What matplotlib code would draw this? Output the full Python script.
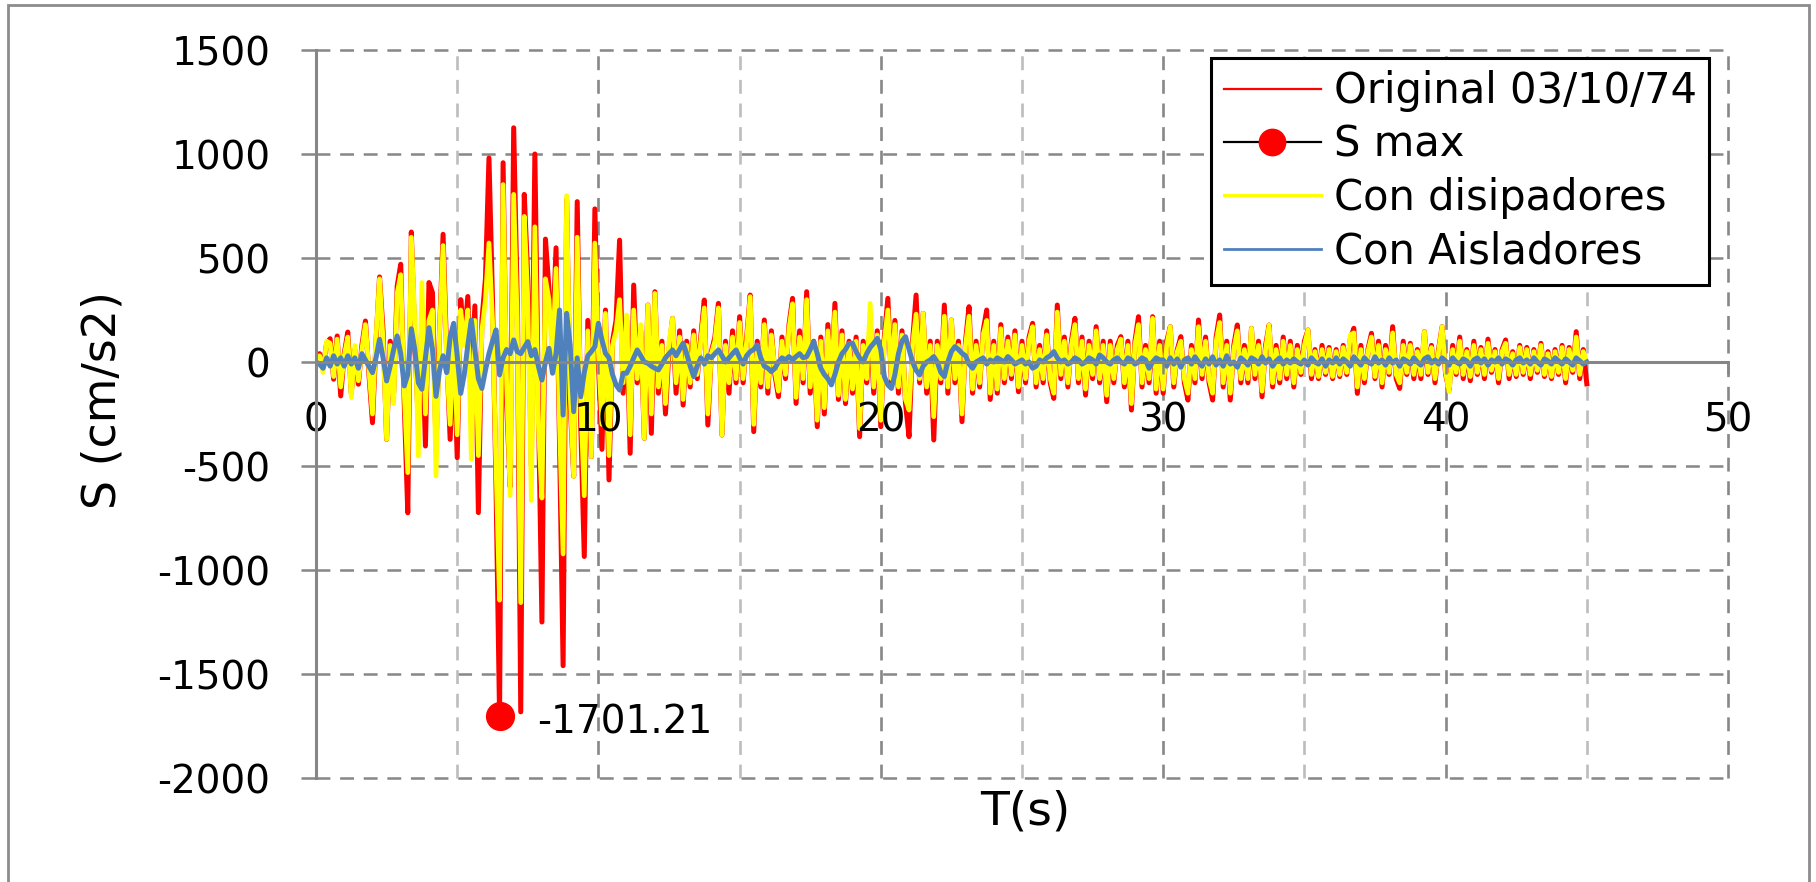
import numpy as np
import matplotlib
matplotlib.use("Agg")
import matplotlib.pyplot as plt
from matplotlib.lines import Line2D
from matplotlib.patches import Rectangle

plt.rcParams['font.family'] = ['DejaVu Sans']
plt.rcParams['axes.unicode_minus'] = False
plt.rcParams['lines.scale_dashes'] = False

# ---------------- data (sampling step 0.125 s, one row = 1 s) ----------------
DT = 0.125

ORIGINAL = [
    0, 40, -30, 90, 112, -83, 125, -163,
    40, 144, -150, 60, -107, 80, 197, -60,
    -292, 100, 409, 150, -372, 100, -150, 365,
    470, -200, -725, 625, 100, -300, 200, -404,
    382, 333, -420, 150, 614, 50, -372, 100,
    -460, 300, 100, 315, -150, 270, -724, 200,
    400, 981, 300, -600, -1701.21, 958, -200, -600,
    1126, 300, -1682, 806, 400, -500, 1000, -200,
    -1250, 591, 350, 100, 549, -400, -1460, 780,
    -200, -549, 771, -300, -935, 200, -455, 736,
    0, -420, 250, -567, 100, 200, 586, -150,
    200, -439, 370, -100, 150, -367, 274, -343,
    338, -150, 100, -250, 60, 210, -150, 150,
    -207, 100, -120, 150, -80, 120, 298, -303,
    50, 120, 282, -351, 100, -150, 150, -100,
    218, -100, 120, 322, -335, 100, -120, 202,
    -150, 150, -60, -167, 120, -80, 180, 306,
    -199, 150, -100, 338, -150, 100, -311, 120,
    -250, 180, -100, 282, -180, 150, -200, 100,
    -150, 120, -359, 100, -100, 194, -150, 150,
    -311, 120, 306, -100, 200, -150, 150, -200,
    -359, 100, 322, -100, 234, -150, 100, -375,
    100, -100, 274, -150, 202, -100, 100, -287,
    100, 266, -150, 100, -120, 150, 250, -180,
    100, -150, 180, -100, 120, -80, 150, -143,
    100, -100, 120, 186, -120, 80, -100, 150,
    -100, -175, 274, -80, 120, -120, 100, 210,
    -100, 120, -159, 100, -80, 170, -100, 100,
    -191, 100, -100, 80, 122, -120, 100, -231,
    100, 218, -120, 80, -100, 218, -150, 100,
    -150, 100, 170, -120, 60, 122, -100, -183,
    80, -100, 202, -80, 120, -100, -183, 120,
    226, -120, 100, -183, 80, 178, -100, 80,
    -100, 162, -80, 100, -167, 80, 178, -120,
    80, -100, 120, -80, 100, -120, 80, -60,
    100, 154, -80, 60, -80, 80, -60, 70,
    -80, 60, -70, 80, -60, 110, 162, -151,
    80, -100, 60, 138, -80, 100, -120, 80,
    -60, 170, -80, -127, 100, -60, 90, -80,
    60, -80, 146, -60, 80, -100, 60, 170,
    -60, -135, 80, -60, 120, -80, 60, -90,
    100, -60, 70, -80, 110, -50, 60, -100,
    60, 106, -80, 50, -70, 80, -60, 70,
    -80, 60, -50, 90, -70, 50, -80, 60,
    -60, 80, -100, 70, -50, 146, -80, 60,
    -105,
]

DISIPADORES = [
    0, 30, -50, 100, 90, -70, 110, -120,
    30, 120, -171, 80, -90, 60, 180, -40,
    -250, 120, 400, 100, -372, 80, -200, 330,
    420, -150, -532, 600, 200, -452, 382, -250,
    200, 250, -548, 150, 560, 0, -300, 150,
    -350, 250, 80, 250, -467, 200, -450, 150,
    300, 572, 200, -500, -1145, 853, -100, -643,
    806, 200, -1157, 700, 300, -666, 650, -300,
    -654, 400, 300, 0, 450, -300, -923, 800,
    -150, -550, 600, -200, -643, 150, -455, 572,
    50, -300, 234, -450, 80, 150, 300, -100,
    226, -350, 250, -80, 180, -367, 274, -250,
    330, -120, 80, -200, 100, 210, -100, 120,
    -180, 80, -100, 130, -60, 100, 260, -250,
    40, 100, 260, -351, 80, -100, 120, -80,
    190, -80, 100, 314, -300, 80, -100, 180,
    -120, 130, -40, -140, 100, -60, 160, 280,
    -170, 120, -80, 300, -120, 80, -280, 100,
    -220, 150, -80, 240, -160, 130, -180, 80,
    -130, 100, -320, 80, -80, 282, -120, 130,
    -280, 100, 250, -80, 180, -120, 130, -180,
    -231, 80, 230, -80, 234, -120, 80, -263,
    80, -80, 220, -120, 202, -80, 80, -250,
    80, 220, -130, 80, -100, 130, 200, -150,
    80, -130, 160, -80, 100, -60, 130, -120,
    80, -80, 100, 170, -100, 60, -80, 130,
    -80, -150, 240, -60, 100, -100, 80, 180,
    -80, 100, -130, 80, -60, 150, -80, 80,
    -160, 80, -80, 60, 110, -100, 80, -200,
    80, 180, -100, 60, -80, 210, -130, 80,
    -130, 80, 170, -100, 50, 100, -80, -150,
    60, -80, 170, -60, 100, -80, -150, 100,
    190, -100, 80, -150, 60, 150, -80, 60,
    -80, 162, -60, 80, -140, 60, 178, -100,
    60, -80, 100, -60, 80, -100, 60, -50,
    80, 154, -60, 50, -70, 60, -50, 60,
    -70, 50, -60, 70, -50, 130, 140, -120,
    60, -80, 50, 120, -70, 80, -100, 60,
    -50, 140, -60, -100, 80, -50, 80, -60,
    50, -60, 146, -50, 70, -80, 50, 170,
    -50, -143, 60, -50, 100, -60, 50, -70,
    80, -50, 60, -60, 90, -40, 50, -80,
    50, 90, -60, 40, -60, 70, -50, 60,
    -60, 50, -40, 80, -60, 40, -70, 50,
    -50, 70, -80, 60, -40, 120, -60, 50,
    0,
]

AISLADORES = [
    0, -10, -30, 20, -20, 30, -10, 20,
    -20, 30, -10, 20, -30, 40, 10, -20,
    -51, 20, 109, 20, -91, -20, 60, 125,
    40, -115, -60, 160, 60, -100, -131, 20,
    165, 60, -165, -40, 30, -51, 120, 186,
    30, -151, -60, 80, 202, 60, -80, -127,
    -40, 40, 100, 154, -62, 20, 60, 40,
    106, 50, 40, 70, 98, 30, 60, -20,
    -87, 0, 66, -54, 40, 250, -255, 234,
    80, -239, 20, -167, -50, 30, 50, 74,
    186, 106, 42, 20, -60, -110, -135, -54,
    -54, -20, 20, 58, 30, 0, -6, -20,
    -30, -38, -10, 20, 40, 58, 30, 60,
    90, 40, -20, -70, -20, 20, -10, 30,
    20, 40, 58, 30, 0, 20, 40, 58,
    20, -10, 30, 50, 60, 82, 20, -20,
    -30, -46, -30, 0, 20, 10, 26, 10,
    26, 40, 20, 26, 60, 98, 40, -30,
    -60, -80, -110, -60, 0, 40, 60, 90,
    90, 50, 20, 0, 40, 70, 90, 114,
    60, -70, -110, -127, -60, 40, 100, 122,
    60, 0, -40, -62, -20, 0, 10, 26,
    0, -50, -70, 0, 50, 74, 60, 42,
    30, -10, -30, 0, 10, 20, -10, 10,
    0, 20, 10, 0, 26, 10, -10, 0,
    10, -10, 0, -30, -20, 10, 0, 20,
    30, 50, 20, 0, 10, -10, 0, 20,
    10, -10, 0, 20, 10, -10, 34, 20,
    0, -10, 10, 20, 0, -10, 20, 10,
    -10, 0, 20, 10, -30, 0, 20, 10,
    10, -20, 20, -10, 15, -25, 10, 20,
    -10, 25, 0, -20, 15, -10, 25, -15,
    10, -20, 30, -10, 0, -25, 20, 5,
    -15, 20, 10, -10, 25, -5, 15, -20,
    5, 20, -10, 10, -5, 15, 0, -10,
    10, -15, 20, 0, -10, 15, -20, 10,
    -5, 20, -10, 15, 0, -20, 25, 5,
    -15, 20, 0, -10, 25, -5, 10, -15,
    20, -5, 10, -20, 15, 5, -10, 20,
    0, -15, 15, 25, -5, 10, -10, 20,
    5, -15, 20, 0, -10, 15, 5, -20,
    10, 20, -5, 15, -15, 10, 0, 20,
    -10, 15, 5, -15, 10, 20, -5, 10,
    -10, 20, 0, -15, 15, 5, -10, 20,
    5, -10, 15, 0, -15, 20, 5, -10,
    0,
]

SMAX_T = [6.5]
SMAX_V = [-1701.21]

LABELS = ['Original 03/10/74', 'S max', 'Con disipadores', 'Con Aisladores']
X_TICKS = [0, 10, 20, 30, 40, 50]
Y_TICKS = [-2000, -1500, -1000, -500, 0, 500, 1000, 1500]
X_LABEL = 'T(s)'
Y_LABEL = 'S (cm/s2)'

# ---------------- figure ----------------
W, H = 1816, 882
fig = plt.figure(figsize=(W / 100, H / 100), dpi=100)
L, R, T, B = 316, 1728, 50, 778
ax = fig.add_axes([L / W, 1 - B / H, (R - L) / W, (B - T) / H])
ax.set_xlim(0, 50)
ax.set_ylim(-2000, 1500)

GRID_DARK = '#878787'
GRID_LIGHT = '#bdbdbd'
dash = (0, (10, 7))
for y in Y_TICKS:
    if y == 0:
        continue
    ax.plot([0, 50], [y, y], color=GRID_DARK, lw=1.8, ls=dash, clip_on=False, zorder=0.5)
for x in range(5, 51, 5):
    c = GRID_DARK if x % 10 == 0 else GRID_LIGHT
    ax.plot([x, x], [-2000, 1500], color=c, lw=1.9, ls=dash, clip_on=False, zorder=0.5)

t_red = DT * np.arange(len(ORIGINAL))
t_yel = DT * np.arange(len(DISIPADORES))
t_blu = DT * np.arange(len(AISLADORES))

ax.plot(t_red, ORIGINAL, color='#ff0000', lw=3.6, zorder=1.1, solid_joinstyle='round')
ax.plot(t_yel, DISIPADORES, color='#ffff00', lw=3.4, zorder=1.2, solid_joinstyle='round')
ax.plot(t_blu, AISLADORES, color='#4f81bd', lw=3.6, zorder=1.3, solid_joinstyle='round')
ax.plot(SMAX_T, SMAX_V, color='black', lw=1.5, marker='o', ms=20,
        mfc='#ff0000', mec='#ff0000', zorder=6, clip_on=False)
ax.annotate(f'{SMAX_V[0]:.2f}', xy=(SMAX_T[0], SMAX_V[0]), xytext=(27, -5),
            textcoords='offset points', ha='left', va='center', fontsize=28, zorder=7)

# spines & ticks
SPINE = '#868686'
for s in ['top', 'right']:
    ax.spines[s].set_visible(False)
ax.spines['left'].set_color(SPINE)
ax.spines['left'].set_linewidth(2.2)
ax.spines['bottom'].set_position(('data', 0))
ax.spines['bottom'].set_color(SPINE)
ax.spines['bottom'].set_linewidth(2.2)

ax.set_xticks(X_TICKS)
ax.set_yticks(Y_TICKS)
ax.set_xticklabels([str(v) for v in X_TICKS])
ax.set_yticklabels([str(v) for v in Y_TICKS])
ax.tick_params(axis='y', direction='out', length=10.8, width=1.8, color=SPINE,
               pad=22, labelsize=28, labelcolor='black')
ax.tick_params(axis='x', direction='out', length=8.5, width=1.8, color=SPINE,
               pad=20, labelsize=28, labelcolor='black')
ax.patch.set_visible(False)

# axis titles
fig.text(103 / W, 1 - 400 / H, Y_LABEL, rotation=90, ha='center', va='center', fontsize=33)
fig.text(1025 / W, 1 - 812 / H, X_LABEL, ha='center', va='center', fontsize=34)

# legend
handles = [
    Line2D([], [], color='#ff0000', lw=1.6),
    Line2D([], [], color='black', lw=1.6, marker='o', ms=19, mfc='#ff0000', mec='#ff0000'),
    Line2D([], [], color='#ffff00', lw=2.2),
    Line2D([], [], color='#4f81bd', lw=2.0),
]
leg = fig.legend(handles, LABELS, loc='upper left',
                 bbox_to_anchor=(1211 / W, 1 - 58 / H), bbox_transform=fig.transFigure,
                 frameon=True, fancybox=False, edgecolor='black', framealpha=1,
                 fontsize=30, handlelength=2.35, handletextpad=0.3, borderpad=0.3,
                 borderaxespad=0, labelspacing=0.27)
leg.get_frame().set_linewidth(2.2)

# outer chart border
fig.add_artist(Rectangle((8 / W, -0.05), (1809 - 8) / W, 1.05 - 5 / H,
                         transform=fig.transFigure, fill=False,
                         edgecolor='#8c8c8c', lw=2.0))

fig.savefig('out.png', dpi=100)
